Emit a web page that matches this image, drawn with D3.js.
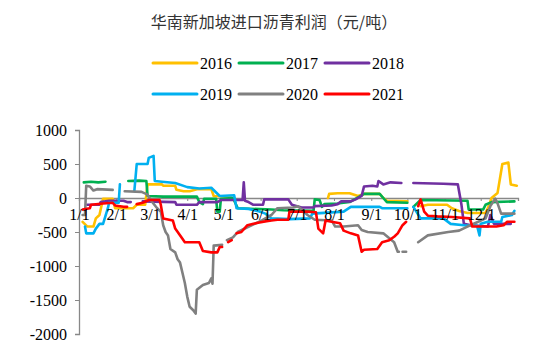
<!DOCTYPE html>
<html><head><meta charset="utf-8">
<script src="https://cdn.jsdelivr.net/npm/d3@7/dist/d3.min.js"></script>
<style>
html,body{margin:0;padding:0;background:#fff;}
svg{display:block;}
</style></head>
<body>
<script>
// ---- data ----
const title = "华南新加坡进口沥青利润（元/吨）";
const years = ["2016","2017","2018","2019","2020","2021"];
const colors = ["#FFC000","#00B050","#7030A0","#00B0F0","#808080","#FF0000"];
const yTicks = [1000,500,0,-500,-1000,-1500,-2000];
const monthLabels = ["1/1","2/1","3/1","4/1","5/1","6/1","7/1","8/1","9/1","10/1","11/1","12/1"];
const monthStarts = [0,31,59,90,120,151,181,212,243,273,304,334];

// [day of year, profit]; null = no data
const s2016 = [[3,-350],[7,-420],[12,-420],[14,-300],[17,-250],[20,-10],[28,-10],[30,-150],[45,-150],[48,-100],[55,-100],[57,200],[69,200],[70,180],[80,180],[81,120],[87,100],[92,100],[98,130],[110,130],[112,30],[126,20],[128,null],[206,null],[207,0],[208,60],[215,70],[225,70],[232,30],[237,60],[250,60],[253,0],[256,-40],[273,-50],[276,null],[284,-120],[290,-100],[306,-100],[310,-150],[316,-190],[323,-220],[338,-220],[340,-150],[343,0],[348,75],[352,500],[357,520],[359,200],[364,180]];
const s2017 = [[4,230],[10,240],[16,230],[22,240],[24,null],[41,250],[50,255],[56,250],[57,30],[70,20],[85,20],[98,20],[100,-60],[103,-90],[104,-10],[114,-10],[115,-200],[117,-200],[118,-10],[128,0],[132,-150],[160,-170],[170,-180],[195,-190],[196,-20],[200,-30],[202,-130],[204,-90],[215,-80],[225,-60],[232,10],[237,60],[250,60],[253,0],[256,-60],[273,-70],[276,null],[278,-130],[284,-30],[323,-40],[324,-170],[336,-170],[338,-100],[343,-60],[362,-50]];
const s2018 = [[7,-100],[17,-100],[18,-60],[25,-40],[37,-40],[40,-60],[43,-60],[44,null],[53,-50],[80,-60],[81,-100],[98,-100],[100,-60],[115,-60],[118,-30],[136,-30],[137,230],[138,-40],[141,-60],[145,-100],[153,-100],[154,-20],[174,-20],[177,-100],[185,-140],[195,-140],[196,-120],[210,-110],[215,-90],[218,-50],[226,-50],[230,-20],[235,30],[237,170],[244,180],[248,170],[249,250],[253,200],[259,230],[268,220],[270,null],[278,220],[303,210],[315,200],[318,-100],[320,-380],[326,-400],[340,-420],[342,-250],[345,-380],[359,-380]];
const s2019 = [[5,-420],[6,-520],[12,-520],[14,-450],[17,-380],[20,-380],[24,-150],[25,-70],[33,-70],[34,200],[35,null],[46,100],[48,500],[57,500],[58,590],[62,620],[63,250],[69,240],[80,220],[90,160],[100,140],[110,150],[117,30],[129,40],[131,-150],[141,-160],[150,-200],[155,-230],[160,-300],[175,-310],[192,-300],[194,-230],[220,-200],[226,-130],[250,-130],[252,-150],[273,-150],[276,null],[278,-130],[284,-300],[303,-300],[309,-380],[320,-400],[331,-410],[333,-550],[334,-380],[340,-350],[351,-350],[352,-280],[360,-250],[362,-190]];
const s2020 = [[3,-250],[5,-250],[6,180],[9,170],[12,110],[15,130],[28,120],[30,null],[38,100],[52,90],[57,50],[60,-40],[65,-150],[68,-200],[70,-400],[72,-500],[74,-550],[76,-750],[80,-800],[82,-900],[84,-950],[86,-1100],[88,-1250],[90,-1450],[92,-1600],[95,-1650],[97,-1700],[98,-1350],[103,-1280],[108,-1250],[110,-1180],[111,-1260],[112,-700],[119,-690],[121,null],[123,-620],[128,-580],[132,-500],[140,-430],[146,-380],[152,-330],[160,-250],[165,-150],[178,-140],[182,-120],[186,-180],[190,-250],[196,-320],[210,-330],[213,-420],[220,-420],[232,-400],[235,-470],[240,-500],[253,-520],[262,-650],[265,-790],[266,-790],[267,null],[269,-790],[272,-790],[274,null],[282,-650],[290,-550],[307,-500],[316,-480],[323,-420],[332,-350],[338,-300],[342,-120],[346,-10],[348,-80],[351,-230],[362,-230]];
const s2021 = [[3,-170],[9,-150],[10,-100],[20,-80],[28,-70],[30,-110],[37,-130],[40,-130],[42,null],[48,-90],[53,-70],[58,-30],[67,-30],[68,-100],[70,-300],[78,-330],[80,-450],[86,-600],[88,-650],[100,-650],[103,-780],[110,-800],[115,-800],[117,-720],[119,-720],[120,null],[124,-650],[127,-620],[128,null],[131,-520],[135,-500],[140,-400],[145,-380],[150,-360],[156,-340],[160,-330],[165,-320],[174,-320],[175,-200],[190,-200],[197,-210],[199,-450],[203,-520],[205,-330],[210,-350],[217,-370],[220,-480],[226,-520],[232,-550],[235,-790],[237,-760],[248,-750],[252,-650],[258,-620],[262,-570],[265,-520],[269,-400],[272,-350],[274,null],[282,-120],[284,-20],[287,-200],[290,-260],[298,-270],[310,-280],[325,-300],[327,-420],[347,-420],[353,-400],[356,-350],[362,-350]];
const seriesData = [s2016,s2017,s2018,s2019,s2020,s2021];

// ---- chart ----
const W = 550, H = 356;
const svg = d3.select("body").append("svg").attr("width", W).attr("height", H);
const serif = "'Liberation Serif','Times New Roman',serif";

const x = d3.scaleLinear().domain([0, 365]).range([79, 518]);
const y = d3.scaleLinear().domain([-2000, 1000]).range([334, 130]);

svg.append("text").attr("x", 274).attr("y", 28).attr("text-anchor", "middle")
  .attr("font-family", "'Noto Sans CJK SC',sans-serif").attr("font-size", 16).attr("fill", "#333")
  .text(title);

// legend
const legend = svg.append("g");
years.forEach((yr, i) => {
  const col = i % 3, row = Math.floor(i / 3);
  const lx = 153 + col * 86, ly = 63 + row * 31;
  legend.append("line").attr("x1", lx).attr("x2", lx + 44).attr("y1", ly).attr("y2", ly)
    .attr("stroke", colors[i]).attr("stroke-width", 3).attr("stroke-linecap", "round");
  legend.append("text").attr("x", lx + 47).attr("y", ly).attr("dy", "0.35em")
    .attr("font-family", serif).attr("font-size", 16).attr("fill", "#000").text(yr);
});

// y axis
const yAxis = svg.append("g").attr("transform", "translate(79,0)")
  .call(d3.axisLeft(y).tickValues(yTicks).tickSize(4).tickPadding(8).tickFormat(d => String(d)));
yAxis.select(".domain").attr("stroke", "#888").attr("stroke-width", 1.3);
yAxis.selectAll(".tick line").attr("stroke", "#888");
yAxis.selectAll("text").attr("font-family", serif).attr("font-size", 16).attr("fill", "#000");

// x axis line and ticks at zero
const xAxis = svg.append("g").attr("transform", `translate(0,${y(0)})`)
  .call(d3.axisBottom(x).tickValues(monthStarts).tickSize(3).tickPadding(8)
    .tickFormat(() => ""));
xAxis.select(".domain").attr("stroke", "#888").attr("stroke-width", 1.3);
xAxis.selectAll(".tick line").attr("stroke", "#888");

// series
const line = d3.line().defined(d => d[1] !== null).x(d => x(d[0])).y(d => y(d[1]));
const lines = svg.append("g");
seriesData.forEach((s, i) => {
  lines.append("path").datum(s).attr("d", line).attr("fill", "none")
    .attr("stroke", colors[i]).attr("stroke-width", 2.6)
    .attr("stroke-linejoin", "round").attr("stroke-linecap", "round");
});

// x labels on top
const xLabels = svg.append("g").attr("transform", `translate(0,${y(0)})`)
  .call(d3.axisBottom(x).tickValues(monthStarts).tickSize(3).tickPadding(8)
    .tickFormat((d, i) => monthLabels[i]));
xLabels.select(".domain").remove();
xLabels.selectAll(".tick line").remove();
xLabels.selectAll("text").attr("font-family", serif).attr("font-size", 16).attr("fill", "#000");
</script>
</body></html>
